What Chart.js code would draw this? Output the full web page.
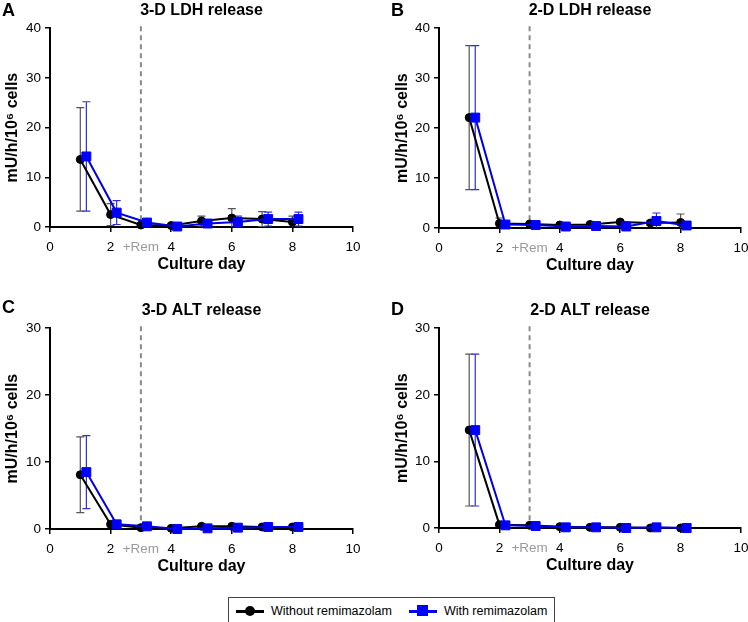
<!DOCTYPE html>
<html><head><meta charset="utf-8">
<script src="https://cdn.jsdelivr.net/npm/chart.js@4.4.1/dist/chart.umd.min.js"></script>
<style>
html,body{margin:0;padding:0;background:#fff;}
#wrap{position:relative;width:748px;height:622px;overflow:hidden;font-family:"Liberation Sans",Arial,sans-serif;background:#fff;}
canvas{position:absolute;}
.letter{position:absolute;font-weight:bold;font-size:18px;line-height:18px;color:#000;}
#legend{position:absolute;left:228px;top:597px;width:327px;height:28px;border:1px solid #444;box-sizing:border-box;display:flex;align-items:center;font-size:12.5px;color:#000;padding-left:7px;white-space:nowrap;}
.item{display:flex;align-items:center;flex:none;white-space:nowrap;}
.sym{position:relative;display:inline-block;width:28px;height:12px;margin-right:7px;flex:none;}
.sym::before{content:"";position:absolute;left:0;right:0;top:5px;height:3px;}
.sym::after{content:"";position:absolute;}
.sym.black::before{background:#000;}
.sym.black::after{left:9px;top:1px;width:10px;height:10px;border-radius:50%;background:#000;}
.sym.blue::before{background:#0000ee;}
.sym.blue::after{left:8px;top:0px;width:11px;height:11px;background:#0000ff;}
</style></head>
<body>
<div id="wrap">
  <canvas id="cA" width="374" height="290" style="left:0;top:0"></canvas>
  <canvas id="cB" width="390" height="290" style="left:374px;top:0"></canvas>
  <canvas id="cC" width="374" height="290" style="left:0;top:295px"></canvas>
  <canvas id="cD" width="390" height="290" style="left:374px;top:295px"></canvas>
  <div class="letter" style="left:2px;top:1px">A</div>
  <div class="letter" style="left:391px;top:1px">B</div>
  <div class="letter" style="left:2px;top:298px">C</div>
  <div class="letter" style="left:391px;top:300px">D</div>
  <div id="legend">
    <span class="item"><span class="sym black"></span><span id="lg0"></span></span>
    <span class="item" style="margin-left:17px"><span class="sym blue"></span><span id="lg1"></span></span>
  </div>
</div>
<script>
// ---- data ----
const days = [1, 2, 3, 4, 5, 6, 7, 8];
const daysShifted = [1.2, 2.2, 3.2, 4.2, 5.2, 6.2, 7.2, 8.2];
const xTicks = [0, 2, 3, 4, 6, 8, 10];
const remDay = 3;
const remLabel = '+Rem';
const ldhTicks = [0, 10, 20, 30, 40];
const altTicks = [0, 10, 20, 30];
const seriesNames = ['Without remimazolam', 'With remimazolam'];
const panelTitles = ['3-D LDH release', '2-D LDH release', '3-D ALT release', '2-D ALT release'];
const xTitle = 'Culture day';
const yTitle = 'mU/h/10\u2076 cells';

const ldh3dWithout   = [13.6, 2.5, 0.4, 0.3, 1.2, 1.8, 1.6, 1.0];
const ldh3dWithoutSD = [10.4, 2.2, 0.3, 0.2, 1.0, 1.9, 1.5, 1.2];
const ldh3dWith      = [14.2, 2.9, 0.9, 0.1, 0.7, 1.0, 1.6, 1.6];
const ldh3dWithSD    = [11.0, 2.4, 0.4, 0.2, 0.4, 1.2, 1.4, 1.4];

const ldh2dWithout   = [22.1, 0.9, 0.8, 0.6, 0.7, 1.2, 1.0, 1.1];
const ldh2dWithoutSD = [14.4, 1.1, 0.3, 0.2, 0.2, 0.3, 0.5, 1.7];
const ldh2dWith      = [22.1, 0.7, 0.6, 0.3, 0.4, 0.3, 1.4, 0.5];
const ldh2dWithSD    = [14.4, 0.3, 0.2, 0.2, 0.2, 0.2, 1.6, 0.3];

const alt3dWithout   = [8.1, 0.7, 0.2, 0.1, 0.4, 0.4, 0.3, 0.3];
const alt3dWithoutSD = [5.65, 0.2, 0.1, 0.1, 0.1, 0.1, 0.1, 0.1];
const alt3dWith      = [8.5, 0.7, 0.4, 0.0, 0.1, 0.2, 0.3, 0.3];
const alt3dWithSD    = [5.45, 0.2, 0.1, 0.05, 0.1, 0.1, 0.1, 0.1];

const alt2dWithout   = [14.7, 0.5, 0.4, 0.2, 0.1, 0.1, 0.0, 0.0];
const alt2dWithoutSD = [11.4, 0.1, 0.1, 0.1, 0.05, 0.05, 0.05, 0.05];
const alt2dWith      = [14.7, 0.4, 0.3, 0.1, 0.1, 0.0, 0.1, 0.0];
const alt2dWithSD    = [11.4, 0.1, 0.1, 0.05, 0.05, 0.05, 0.05, 0.05];

document.getElementById('lg0').textContent = seriesNames[0];
document.getElementById('lg1').textContent = seriesNames[1];

const F = '"Liberation Sans", Arial, sans-serif';

const remLinePlugin = {
  id: 'remLine',
  beforeDatasetsDraw(chart) {
    const {ctx, chartArea, scales: {x}} = chart;
    const px = x.getPixelForValue(remDay);
    ctx.save();
    ctx.strokeStyle = '#8a8a8a';
    ctx.lineWidth = 2;
    ctx.setLineDash([5, 4]);
    ctx.beginPath();
    ctx.moveTo(px, chartArea.top - 2);
    ctx.lineTo(px, chartArea.bottom);
    ctx.stroke();
    ctx.restore();
  }
};

const errPlugin = {
  id: 'errBars',
  beforeDatasetsDraw(chart) {
    const {ctx, scales: {x, y}} = chart;
    chart.data.datasets.forEach(ds => {
      ctx.save();
      ctx.strokeStyle = ds.errColor;
      ctx.lineWidth = 1.2;
      ds.data.forEach((p, i) => {
        const e = ds.errors[i];
        if (!e) return;
        const px = x.getPixelForValue(p.x);
        const lo = Math.max(0, p.y - e);
        const top = y.getPixelForValue(p.y + e);
        const bot = y.getPixelForValue(lo);
        ctx.beginPath();
        ctx.moveTo(px, top); ctx.lineTo(px, bot);
        ctx.moveTo(px - 4, top); ctx.lineTo(px + 4, top);
        if (lo > 0) { ctx.moveTo(px - 4, bot); ctx.lineTo(px + 4, bot); }
        ctx.stroke();
      });
      ctx.restore();
    });
  }
};

function makeChart(id, title, yTicks, wo, woSD, wi, wiSD, d) {
  return new Chart(document.getElementById(id), {
    type: 'line',
    data: {
      datasets: [
        { label: seriesNames[0], data: days.map((x, i) => ({x: x, y: wo[i]})), errors: woSD, errColor: '#555',
          borderColor: '#000', backgroundColor: '#000', pointBackgroundColor: '#000', pointBorderColor: '#000',
          pointStyle: 'circle', pointRadius: 4, pointBorderWidth: 1, borderWidth: 2, order: 1, clip: false, tension: 0 },
        { label: seriesNames[1], data: daysShifted.map((x, i) => ({x: x, y: wi[i]})), errors: wiSD, errColor: '#3030d0',
          borderColor: '#0000e6', backgroundColor: '#0000ff', pointBackgroundColor: '#0000ff', pointBorderColor: '#0000ff',
          pointStyle: 'rect', pointRadius: 6.3, pointBorderWidth: 1, borderWidth: 2, order: 0, clip: false, tension: 0 }
      ]
    },
    options: {
      responsive: false, animation: false, devicePixelRatio: 1,
      layout: {padding: {top: d.padTop, right: d.padRight, bottom: d.padBottom, left: 0}},
      plugins: {
        legend: {display: false}, tooltip: {enabled: false},
        title: {display: true, text: title, fullSize: false, color: '#000',
          font: {family: F, size: 16, weight: 'bold'}, padding: {top: 0, bottom: 8}}
      },
      scales: {
        x: {
          type: 'linear', min: 0, max: 10,
          afterBuildTicks: s => { s.ticks = xTicks.map(v => ({value: v})); },
          afterFit: s => { s.height = 50; },
          border: {color: '#000', width: 2},
          grid: {drawOnChartArea: false, drawTicks: true, tickLength: 5, lineWidth: 1.5,
            color: c => (c.tick && c.tick.value === remDay) ? 'rgba(0,0,0,0)' : '#000'},
          ticks: {autoSkip: false, maxRotation: 0, minRotation: 0, padding: 7,
            font: {family: F, size: 13.5},
            color: c => (c.tick && c.tick.value === remDay) ? '#9a9a9a' : '#000',
            callback: v => v === remDay ? remLabel : String(v)},
          title: {display: true, text: xTitle, color: '#000', font: {family: F, size: 16, weight: 'bold'},
            padding: {top: 0, bottom: 3}}
        },
        y: {
          type: 'linear', min: 0, max: yTicks[yTicks.length - 1],
          afterBuildTicks: s => { s.ticks = yTicks.map(v => ({value: v})); },
          afterFit: s => { s.width = d.yWidth; },
          border: {color: '#000', width: 2},
          grid: {drawOnChartArea: false, drawTicks: true, tickLength: 5, lineWidth: 1.5, color: '#000'},
          ticks: {padding: 4, font: {family: F, size: 13.5}, color: '#000'},
          title: {display: true, text: yTitle, color: '#000', font: {family: F, size: 16, weight: 'bold'},
            padding: {top: d.yTitlePad, bottom: 0}}
        }
      }
    },
    plugins: [remLinePlugin, errPlugin]
  });
}

makeChart('cA', panelTitles[0], ldhTicks, ldh3dWithout, ldh3dWithoutSD, ldh3dWith, ldh3dWithSD,
  {padTop: 1, padRight: 21, padBottom: 13, yWidth: 50, yTitlePad: 3});
makeChart('cB', panelTitles[1], ldhTicks, ldh2dWithout, ldh2dWithoutSD, ldh2dWith, ldh2dWithSD,
  {padTop: 1, padRight: 23, padBottom: 12, yWidth: 65, yTitlePad: 19});
makeChart('cC', panelTitles[2], altTicks, alt3dWithout, alt3dWithoutSD, alt3dWith, alt3dWithSD,
  {padTop: 6, padRight: 21, padBottom: 6, yWidth: 50, yTitlePad: 3});
makeChart('cD', panelTitles[3], altTicks, alt2dWithout, alt2dWithoutSD, alt2dWith, alt2dWithSD,
  {padTop: 6, padRight: 23, padBottom: 7, yWidth: 65, yTitlePad: 19});
</script>
</body></html>
